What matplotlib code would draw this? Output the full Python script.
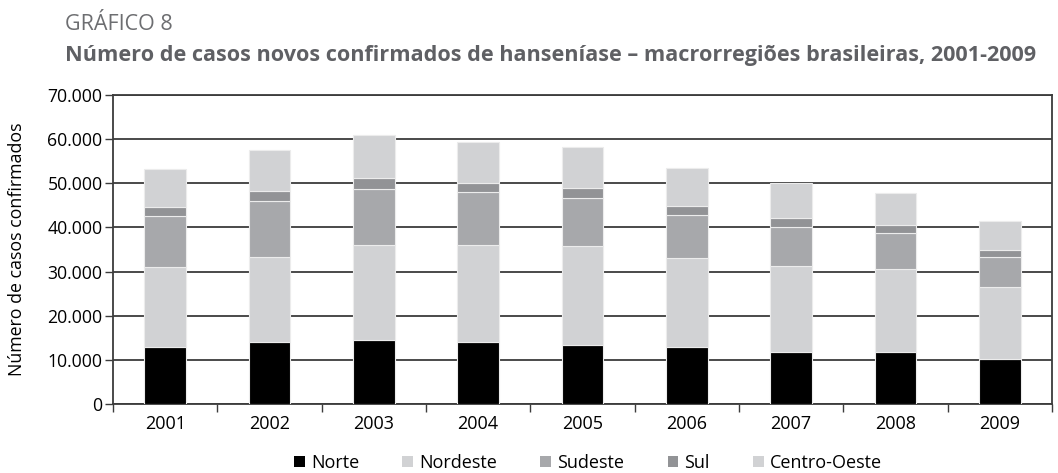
import matplotlib
matplotlib.use("Agg")
import matplotlib.pyplot as plt
from matplotlib.ticker import FuncFormatter, FixedLocator
from matplotlib.patches import Patch
import numpy as np

# dados (casos por macrorregiao)
anos = ["2001", "2002", "2003", "2004", "2005", "2006", "2007", "2008", "2009"]
norte = [13000, 14000, 14500, 14100, 13300, 13000, 11900, 11900, 10300]
nordeste = [18100, 19200, 21600, 21900, 22400, 20100, 19400, 18600, 16300]
sudeste = [11500, 12800, 12500, 11900, 10900, 9600, 8900, 8200, 6600]
sul = [2100, 2300, 2600, 2200, 2400, 2200, 2000, 1800, 1600]
centro_oeste = [8500, 9100, 9700, 9200, 9200, 8500, 7800, 7300, 6700]

regioes = ["Norte", "Nordeste", "Sudeste", "Sul", "Centro-Oeste"]
cores = ["#000000", "#d1d2d4", "#a7a8ab", "#929396", "#d1d2d4"]

plt.rcParams['font.family'] = ['Open Sans', 'DejaVu Sans']

fig = plt.figure(figsize=(10.58, 4.73), dpi=100)
ax = fig.add_axes([113 / 1058, 1 - 404.3 / 473, 939 / 1058, 309.6 / 473])

x = np.arange(len(anos))
base = np.zeros(len(anos))
for nome, vals, cor in zip(regioes, [norte, nordeste, sudeste, sul, centro_oeste], cores):
    ax.bar(x, vals, 0.4, bottom=base, color=cor, edgecolor="#ececec", linewidth=0.8, zorder=3)
    base = base + np.array(vals)

ax.set_xlim(-0.5, len(anos) - 0.5)
ax.set_ylim(0, 70000)
ax.set_yticks(range(0, 70001, 10000))
ax.yaxis.set_major_formatter(FuncFormatter(lambda v, p: f"{int(v):,}".replace(",", ".")))
ax.grid(axis="y", color="#3c3c3c", linewidth=1.3, zorder=0)

# ticks do eixo x entre as categorias, rotulos no centro
ax.xaxis.set_major_locator(FixedLocator(np.arange(-0.5, len(anos), 1.0)))
ax.xaxis.set_minor_locator(FixedLocator(x))
ax.set_xticklabels([])
ax.set_xticklabels(anos, minor=True)
ax.tick_params(axis="x", which="major", length=6, width=1, color="#3c3c3c")
ax.tick_params(axis="x", which="minor", length=0, labelsize=13, pad=8)
ax.tick_params(axis="y", length=6, width=1, color="#3c3c3c", labelsize=12.7, pad=1.5)

for s in ax.spines.values():
    s.set_color("#3c3c3c")
    s.set_linewidth(1.3)

ax.set_ylabel("Número de casos confirmados", fontsize=12.8)
ax.yaxis.set_label_coords(-0.0927, 0.5)

handles = [Patch(facecolor=c, edgecolor="none") for c in cores]
fig.legend(handles, regioes, loc="center", bbox_to_anchor=(588 / 1058, 1 - 463 / 473),
           ncol=5, frameon=False, fontsize=13, handlelength=0.6, handleheight=0.6,
           handletextpad=0.33, columnspacing=2.4, borderpad=0)

fig.text(65 / 1058, 1 - 30 / 473, "GRÁFICO 8", fontsize=15.5, color="#6d6e71", va="baseline")
fig.text(65 / 1058, 1 - 61 / 473,
         "Número de casos novos confirmados de hanseníase – macrorregiões brasileiras, 2001-2009",
         fontsize=15.6, fontweight="bold", color="#5f6064", va="baseline")

fig.savefig("out.png", dpi=100)
